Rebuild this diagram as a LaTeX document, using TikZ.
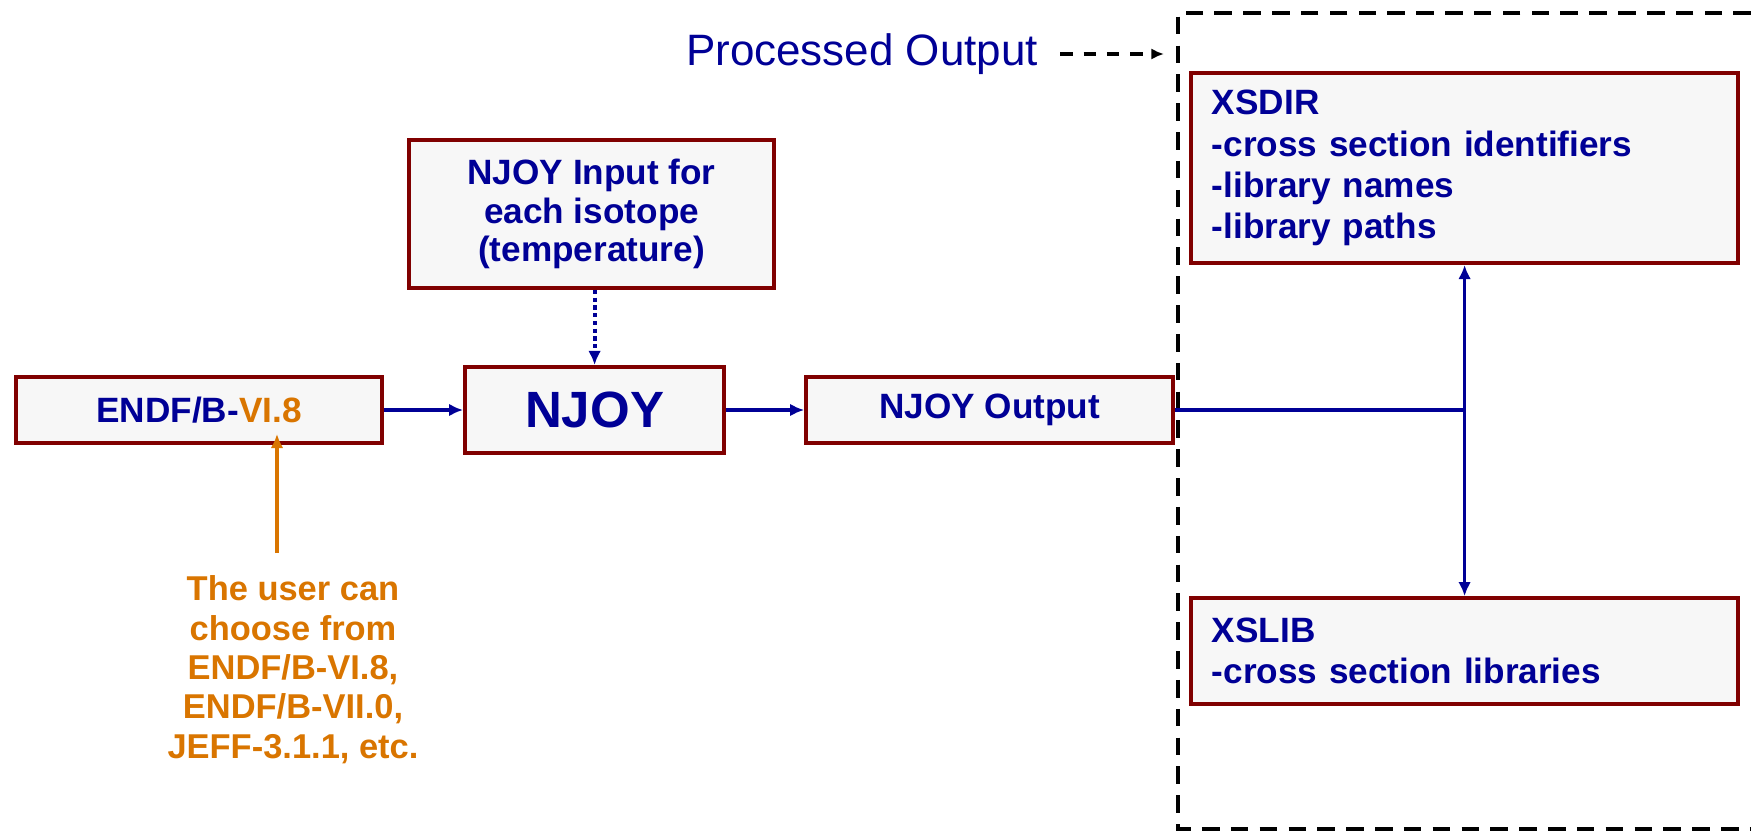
\documentclass[tikz,border=0pt]{standalone}
\usepackage{fontspec}
\setmainfont{Liberation Sans}
\usetikzlibrary{arrows.meta, positioning}
\definecolor{navy}{RGB}{0,0,150}
\definecolor{boxred}{RGB}{128,0,0}
\definecolor{boxfill}{RGB}{247,247,247}
\definecolor{userorange}{RGB}{217,117,0}

\begin{document}
\begin{tikzpicture}[
        x=0.01cm, y=0.01cm,
        node distance=0.79cm,
        block/.style={rectangle, draw=boxred, line width=1.1pt, fill=boxfill, text=navy, align=center, inner sep=0pt, font=\bfseries\fontsize{10}{11}\selectfont},
        listbox/.style={block, align=left, text width=5.05cm, inner xsep=0.21cm, font=\bfseries\fontsize{10}{11.7}\selectfont},
        flow/.style={draw=navy, line width=1.1pt, -{Latex[length=4pt,width=3.6pt]}},
        frame/.style={draw=black, line width=1.2pt, dash pattern=on 5pt off 3.2pt}
    ]
    \useasboundingbox (0,0) rectangle (1751,832);

    % Objects
    \node[block, minimum width=3.66cm, minimum height=0.66cm] (endf) at (199,422) {ENDF/B-\textcolor{userorange}{VI.8}};
    \node[block, right=of endf, minimum width=2.59cm, minimum height=0.86cm, font=\bfseries\fontsize{14.5}{16}\selectfont] (njoy) {NJOY};
    \node[block, above=0.75cm of njoy, xshift=-0.03cm, minimum width=3.65cm, minimum height=1.48cm] (input) {NJOY Input for\\each isotope\\(temperature)};
    \node[block, right=0.78cm of njoy, minimum width=3.67cm, minimum height=0.66cm] (out) {NJOY Output};
    \node[listbox, anchor=north west, minimum height=1.90cm] (xsdir) at (1189,761) {XSDIR\\-cross section identifiers\\-library names\\-library paths};
    \node[listbox, below=3.31cm of xsdir, minimum height=1.06cm] (xslib) {XSLIB\\-cross section libraries};
    \node[text=navy, font=\fontsize{12.5}{14}\selectfont] (procout) at (862,778) {Processed Output};
    \node[text=userorange, align=center, anchor=north, inner xsep=0pt, inner ysep=0.22cm, font=\bfseries\fontsize{9.8}{11.2}\selectfont] (note) at (293,279) {The user can\\choose from\\ENDF/B-VI.8,\\ENDF/B-VII.0,\\JEFF-3.1.1, etc.};

    % Frame of the processed output
    \coordinate (frametl) at (1178,819);
    \draw[frame] (1751,819) -- (frametl) -- (1178,3) -- (1751,3);

    % Flow
    \draw[flow] (endf) -- (njoy);
    \draw[flow] (njoy) -- (out);
    \draw[flow, dash pattern=on 1.2pt off 1pt] (input.south -| njoy) -- (njoy);

    \coordinate (jn) at (xsdir.south |- out.east);
    \draw[navy, line width=1pt] (out.east) -- (jn);
    \draw[flow, line width=1pt] (jn) -- (xsdir.south);
    \draw[flow, line width=1pt] (jn) -- (xslib.north);

    \draw[line width=1pt, dash pattern=on 3.6pt off 3pt, -{Latex[length=3.6pt,width=3.2pt]}, shorten <=0.1cm, shorten >=0.14cm] (procout.east) -- (procout.east -| frametl);

    \coordinate (notex) at ([xshift=-0.16cm]note.north);
    \coordinate (tip) at ([yshift=0.11cm]endf.south);
    \draw[draw=userorange, line width=1.1pt, -{Latex[length=4pt,width=3.6pt]}] (notex) -- (notex |- tip);

\end{tikzpicture}
\end{document}
